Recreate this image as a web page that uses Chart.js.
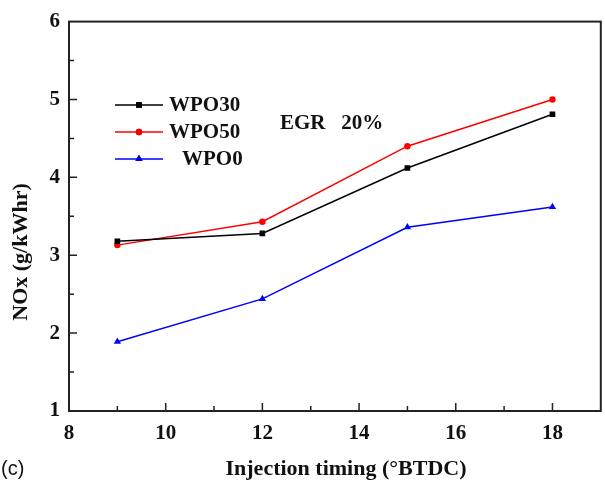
<!DOCTYPE html>
<html>
<head>
<meta charset="utf-8">
<script src="https://cdn.jsdelivr.net/npm/chart.js@4/dist/chart.umd.min.js"></script>
<style>
  html, body { margin: 0; padding: 0; background: #fff; }
  #wrap { width: 605px; height: 483px; position: relative; }
</style>
</head>
<body>
<div id="wrap"><canvas id="noxChart" width="605" height="483"></canvas></div>
<script>
/* NOx vs injection timing, EGR 20% */

// ---- data ----
const timings = [9, 12, 15, 18];
const wpo30 = [3.18, 3.28, 4.12, 4.81];
const wpo50 = [3.13, 3.43, 4.40, 5.00];
const wpo0  = [1.89, 2.44, 3.36, 3.62];
const seriesNames = ['WPO30', 'WPO50', 'WPO0'];
const xTitle = 'Injection timing (\u00b0BTDC)';
const yTitle = 'NOx (g/kWhr)';
const note = 'EGR   20%';
const panel = '(c)';

const SERIF = '"Liberation Serif", "Times New Roman", serif';
const AXIS = '#222';

const pts = (ys) => timings.map((x, i) => ({ x, y: ys[i] }));

// box, inside ticks, legend and free text
const decor = {
  id: 'decor',
  afterDraw(chart) {
    const { ctx, chartArea: a, scales } = chart;
    const xs = scales.x, ys = scales.y;
    ctx.save();
    ctx.strokeStyle = AXIS;
    ctx.lineWidth = 2;
    ctx.strokeRect(a.left, a.top, a.right - a.left, a.bottom - a.top);

    // ticks pointing inward
    ctx.lineWidth = 1.5;
    ctx.beginPath();
    for (let v = 9; v < 19; v++) {
      const px = xs.getPixelForValue(v);
      const len = v % 2 === 0 ? 8 : 5;
      ctx.moveTo(px, a.bottom); ctx.lineTo(px, a.bottom - len);
    }
    for (let v = 1.5; v < 6; v += 0.5) {
      const py = ys.getPixelForValue(v);
      const len = Number.isInteger(v) ? 8 : 5;
      ctx.moveTo(a.left, py); ctx.lineTo(a.left + len, py);
    }
    ctx.stroke();

    // legend
    const rows = [105, 132, 159];
    chart.data.datasets.forEach((ds, i) => {
      const y = rows[i];
      ctx.strokeStyle = ds.borderColor;
      ctx.lineWidth = 1.5;
      ctx.beginPath(); ctx.moveTo(115, y); ctx.lineTo(163, y); ctx.stroke();
      Chart.helpers.drawPoint(ctx, {
        pointStyle: ds.pointStyle, radius: ds.pointRadius, borderWidth: 0
      }, 139, y);
      ctx.fillStyle = ds.borderColor;
      ctx.fill();
      ctx.fillStyle = '#111';
      ctx.font = 'bold 21px ' + SERIF;
      ctx.textAlign = 'left';
      ctx.textBaseline = 'middle';
      ctx.fillText(ds.label, i === 2 ? 182 : 169, y + 1);
    });

    // EGR note
    ctx.font = 'bold 21px ' + SERIF;
    ctx.textBaseline = 'middle';
    ctx.fillText(note, 280, 124);

    // axis titles
    ctx.font = 'bold 22px ' + SERIF;
    ctx.textAlign = 'center';
    ctx.fillText(xTitle, 346, 469);
    ctx.save();
    ctx.translate(21, 252);
    ctx.rotate(-Math.PI / 2);
    ctx.fillText(yTitle, 0, 0);
    ctx.restore();

    // panel letter
    ctx.font = '20px "Liberation Sans", Arial, sans-serif';
    ctx.textAlign = 'left';
    ctx.fillText(panel, 1, 469);
    ctx.restore();
  }
};

new Chart(document.getElementById('noxChart'), {
  type: 'line',
  data: {
    datasets: [
      { label: seriesNames[0], data: pts(wpo30), borderColor: '#000', backgroundColor: '#000',
        pointStyle: 'rect', pointRadius: 4 },
      { label: seriesNames[1], data: pts(wpo50), borderColor: '#ff0000', backgroundColor: '#ff0000',
        pointStyle: 'circle', pointRadius: 3.2 },
      { label: seriesNames[2], data: pts(wpo0), borderColor: '#0000ff', backgroundColor: '#0000ff',
        pointStyle: 'triangle', pointRadius: 4.2 }
    ].map(d => ({ ...d, borderWidth: 1.5, pointBorderWidth: 0, tension: 0, fill: false }))
  },
  options: {
    responsive: false,
    animation: false,
    layout: { padding: { top: 16, right: 1, left: 0, bottom: 0 } },
    plugins: { legend: { display: false }, tooltip: { enabled: false } },
    scales: {
      x: {
        type: 'linear', min: 8, max: 19,
        border: { display: false },
        grid: { display: false, drawTicks: false },
        ticks: { stepSize: 2, includeBounds: false, padding: 10, color: '#111',
                 font: { family: SERIF, size: 21, weight: 'bold' }, maxRotation: 0 },
        afterFit: (s) => { s.height = 72; }
      },
      y: {
        min: 1, max: 6,
        border: { display: false },
        grid: { display: false, drawTicks: false },
        ticks: { stepSize: 1, padding: 9, color: '#111',
                 font: { family: SERIF, size: 21, weight: 'bold' } },
        afterFit: (s) => { s.width = 69; }
      }
    }
  },
  plugins: [decor]
});
</script>
</body>
</html>
